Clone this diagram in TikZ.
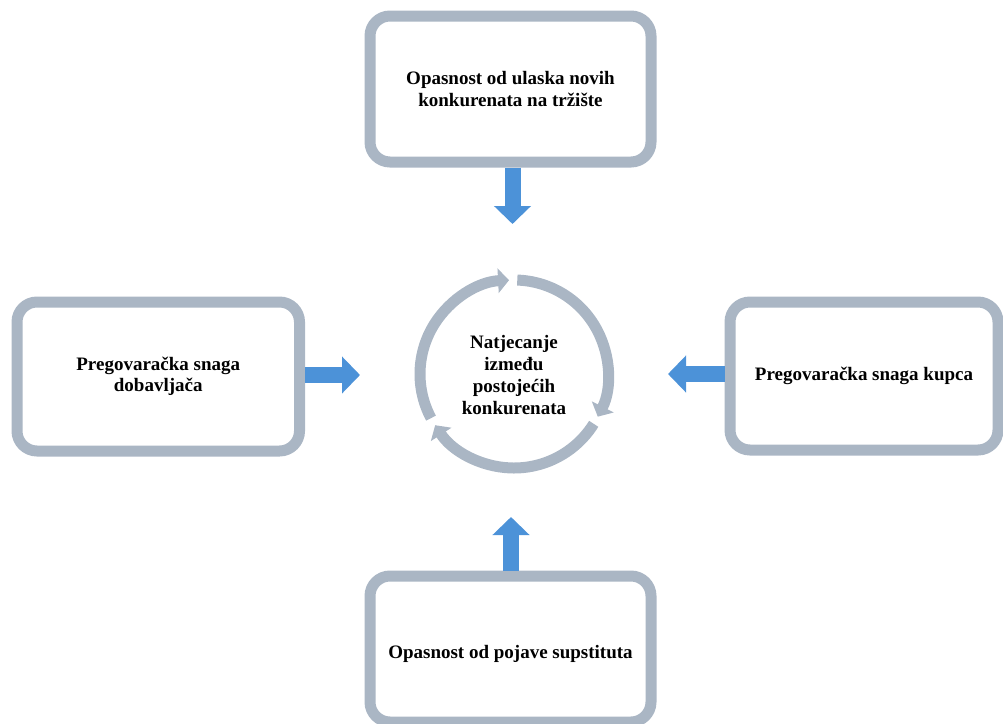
\documentclass[tikz,border=0pt]{standalone}
\usepackage{fontspec}
\setmainfont{Liberation Serif}
\usetikzlibrary{arrows.meta}
\definecolor{ringgray}{RGB}{170,182,196}
\definecolor{arrowblue}{RGB}{76,146,216}
\begin{document}
\begin{tikzpicture}[x=1pt,y=-1pt,
  box/.style={draw=ringgray, line width=11pt, rounded corners=20pt, fill=white,
    align=center, inner sep=0pt, font=\bfseries\fontsize{19}{21.5}\selectfont},
  blockarrow/.style={draw=arrowblue, line width=16pt, -{Triangle[length=18pt,width=36pt]}},
  ringarc/.style={draw=ringgray, line width=11pt, -{Triangle[length=11pt,width=24pt]}},
  centertext/.style={align=center, inner sep=0pt, font=\bfseries\fontsize{19}{22}\selectfont}]
\useasboundingbox (0,0) rectangle (1003,723);
% boxes
\node[box, minimum width=281pt, minimum height=146pt] (top) at (510.5,89)
  {Opasnost od ulaska novih\\konkurenata na tržište};
\node[box, minimum width=282.5pt, minimum height=149pt] (left) at (158.25,376.5)
  {Pregovaračka snaga\\dobavljača};
\node[box, minimum width=268pt, minimum height=148pt] (right) at (864,376)
  {Pregovaračka snaga kupca};
\node[box, minimum width=281pt, minimum height=146pt] (bottom) at (510.5,649)
  {\raisebox{-5pt}[\height][\depth]{Opasnost od pojave supstituta}};
% centre
\node[centertext] (ctr) at (514,375) {Natjecanje\\između\\postojećih\\konkurenata};
\coordinate (c) at (514,374);
\draw[ringarc] ([shift={(-88:94)}]c) arc[start angle=-88, end angle=27, radius=94];
\draw[ringarc] ([shift={(32:94)}]c) arc[start angle=32, end angle=147, radius=94];
\draw[ringarc] ([shift={(152:94)}]c) arc[start angle=152, end angle=267, radius=94];
% block arrows
\coordinate (tipT) at (512.5,224);
\coordinate (tipL) at (360,375);
\coordinate (tipR) at (668,374);
\coordinate (tipB) at (511,517);
\draw[blockarrow] (top.south -| tipT) -- (tipT);
\draw[blockarrow] (left.east |- tipL) -- (tipL);
\draw[blockarrow] (right.west |- tipR) -- (tipR);
\draw[blockarrow] (bottom.north -| tipB) -- (tipB);
\end{tikzpicture}
\end{document}
